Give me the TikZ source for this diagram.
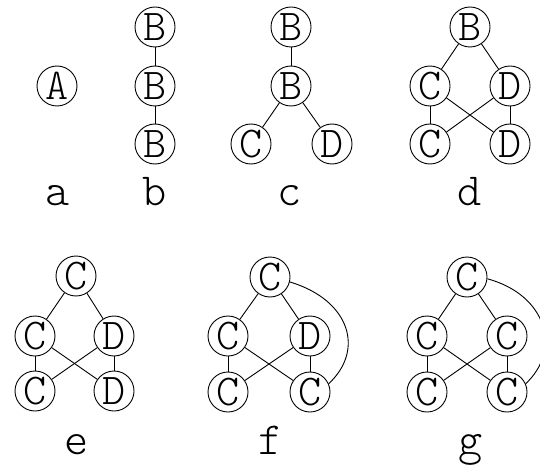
\documentclass[tikz,border=0pt]{standalone}
\usepackage{fontspec}
\newfontfamily\thinmono{lmmonolt10-regular.otf}
\usetikzlibrary{calc}
\tikzset{
  vert/.style={circle, draw, line width=0.9pt, minimum size=40pt, inner sep=0pt,
    font=\thinmono\fontsize{44}{46}\selectfont},
  lbl/.style={anchor=base, inner sep=0pt, font=\thinmono\fontsize{46}{48}\selectfont},
  edge/.style={line width=0.9pt},
}
\begin{document}
\begin{tikzpicture}[x=1pt, y=-1pt]
\useasboundingbox (0,0) rectangle (540,465);
\clip (0,0) rectangle (540,465);
% a
\node[vert] (aA) at (57,86) {A};
\node[lbl] (la) at (58,205) {a};
% b
\node[vert] (b1) at (155,27) {B};
\node[vert] (b2) at (155,86) {B};
\node[vert] (b3) at (155,144) {B};
\draw[edge] (b1) -- (b2);
\draw[edge] (b2) -- (b3);
\node[lbl] (lb) at (155,205) {b};
% c
\node[vert] (c1) at (291,27) {B};
\node[vert] (c2) at (291,86) {B};
\node[vert] (cC) at (251,144) {C};
\node[vert] (cD) at (332,144) {D};
\draw[edge] (c1) -- (c2);
\draw[edge] (c2) -- (cC);
\draw[edge] (c2) -- (cD);
\node[lbl] (lc) at (290,205) {c};
% d
\node[vert] (dB) at (470,27) {B};
\node[vert] (dC1) at (430,86) {C};
\node[vert] (dD1) at (510,86) {D};
\node[vert] (dC2) at (430,144) {C};
\node[vert] (dD2) at (510,144) {D};
\draw[edge] (dB) -- (dC1);
\draw[edge] (dB) -- (dD1);
\draw[edge] (dC1) -- (dC2);
\draw[edge] (dD1) -- (dD2);
\draw[edge] (dC1) -- (dD2);
\draw[edge] (dD1) -- (dC2);
\node[lbl] (ld) at (470,205) {d};
% e
\node[vert] (eT) at (76,276) {C};
\node[vert] (eL) at (35,336) {C};
\node[vert] (eR) at (114,336) {D};
\node[vert] (eBL) at (35,391) {C};
\node[vert] (eBR) at (114,391) {D};
\draw[edge] (eT) -- (eL);
\draw[edge] (eT) -- (eR);
\draw[edge] (eL) -- (eBL);
\draw[edge] (eR) -- (eBR);
\draw[edge] (eL) -- (eBR);
\draw[edge] (eR) -- (eBL);
\node[lbl] (le) at (77,454) {e};
% f
\node[vert] (fT) at (270,277) {C};
\node[vert] (fL) at (228,336) {C};
\node[vert] (fR) at (310,336) {D};
\node[vert] (fBL) at (228,392) {C};
\node[vert] (fBR) at (310,392) {C};
\draw[edge] (fT) -- (fL);
\draw[edge] (fT) -- (fR);
\draw[edge] (fL) -- (fBL);
\draw[edge] (fR) -- (fBR);
\draw[edge] (fL) -- (fBR);
\draw[edge] (fR) -- (fBL);
\draw[edge] (fT.-14) .. controls ($(fT)+(80,23)$) and ($(fBR)+(55,-42)$) .. (fBR.24);
\node[lbl] (lf) at (271,454) {f};
% g
\node[vert] (gT) at (467,277) {C};
\node[vert] (gL) at (427,336) {C};
\node[vert] (gR) at (507,336) {C};
\node[vert] (gBL) at (427,392) {C};
\node[vert] (gBR) at (507,392) {C};
\draw[edge] (gT) -- (gL);
\draw[edge] (gT) -- (gR);
\draw[edge] (gL) -- (gBL);
\draw[edge] (gR) -- (gBR);
\draw[edge] (gL) -- (gBR);
\draw[edge] (gR) -- (gBL);
\draw[edge] (gT.-5) .. controls ($(gT)+(80,18)$) and ($(gBR)+(55,-42)$) .. (gBR.24);
\node[lbl] (lg) at (471,454) {g};
\end{tikzpicture}
\end{document}
